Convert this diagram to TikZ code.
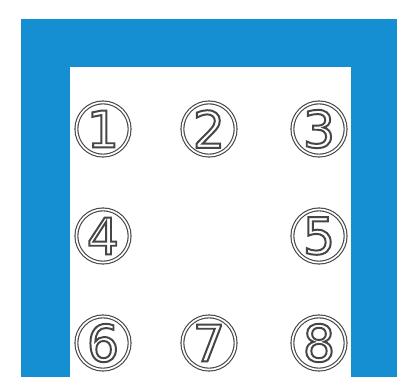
\documentclass[tikz,border=0pt]{standalone}
\usepackage{fontspec}
\newfontfamily\spotfont{DejaVu Sans}
\usepackage{tikz}
\usetikzlibrary{positioning}
\definecolor{frameblue}{RGB}{22,142,210}
\definecolor{markgray}{RGB}{70,70,70}
% outline-only glyphs (PDF text render mode 1)
\newcommand{\hollow}[1]{\special{pdf:literal direct 1 Tr 1.4 w}#1\special{pdf:literal direct 0 Tr}}

\begin{document}
\begin{tikzpicture}[x=0.025cm, y=-0.025cm,
        spot/.style={circle, draw=markgray, line width=0.8pt, double=white, double distance=1.2pt,
            minimum size=1.33cm, inner sep=0pt, text=markgray,
            font=\fontsize{36}{36}\spotfont},
    ]
        \useasboundingbox (0,0) rectangle (397,377);

        % Frame
        \fill[white] (0,0) rectangle (397,377);
        \fill[frameblue] (21,19) rectangle (397,377);
        \fill[white] (70,67) rectangle (351,377);

        % Numbered spots
        \foreach \n/\x/\y in {1/103/129, 2/209/129, 3/319/129,
                              4/103/236, 5/319/236,
                              6/103/343, 7/209/343, 8/319/343}
            \node[spot] (spot\n) at (\x,\y) {\hollow{\n}};
    \end{tikzpicture}
\end{document}
